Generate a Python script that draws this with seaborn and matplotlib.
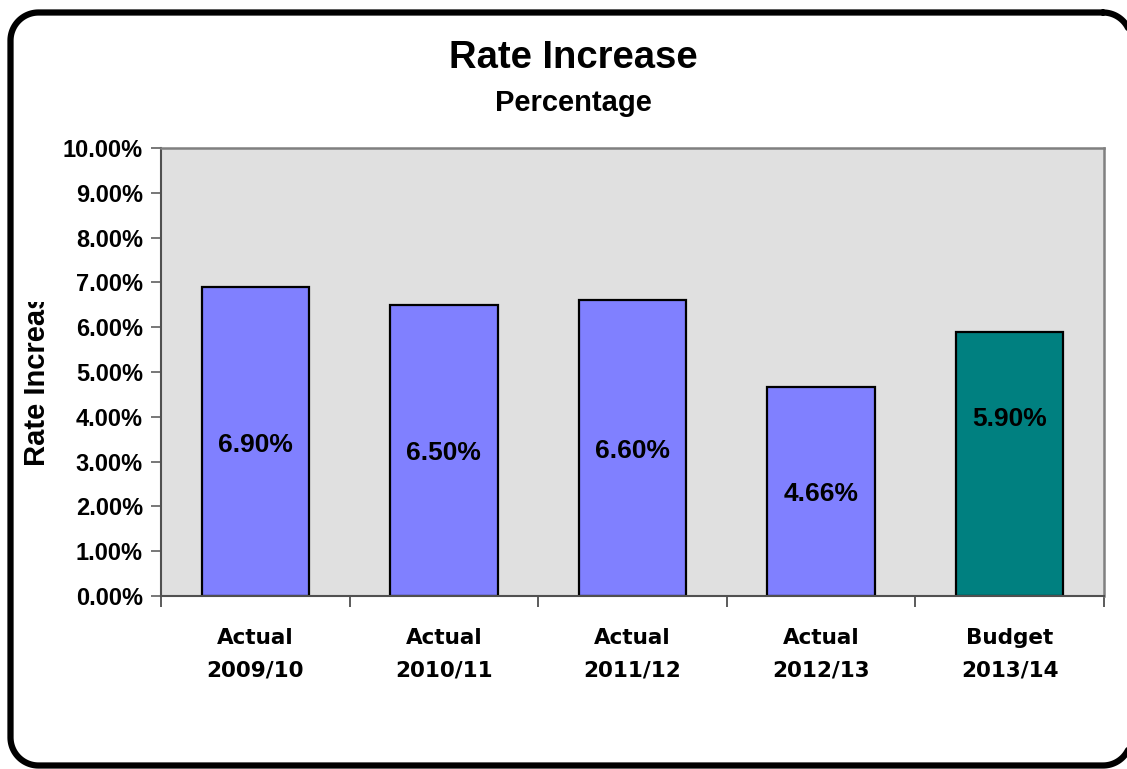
import matplotlib
matplotlib.use("Agg")
import matplotlib.pyplot as plt
import matplotlib.ticker as mticker
from matplotlib.patches import Rectangle
from matplotlib.transforms import IdentityTransform
import numpy as np
import seaborn as sns
import pandas as pd

# ---- data ----
categories = ["Actual\n2009/10", "Actual\n2010/11", "Actual\n2011/12",
              "Actual\n2012/13", "Budget\n2013/14"]
rates = [6.90, 6.50, 6.60, 4.66, 5.90]          # percent
value_labels = ["6.90%", "6.50%", "6.60%", "4.66%", "5.90%"]
bar_colors = ["#8080FF", "#8080FF", "#8080FF", "#8080FF", "#008080"]
y_ticks = [0, 1, 2, 3, 4, 5, 6, 7, 8, 9, 10]

# where each value label sits, as a fraction of its bar height
label_frac = [0.49, 0.49, 0.49, 0.49, 0.67]

df = pd.DataFrame({"period": categories, "rate": rates})

sns.set_theme(style="white")
plt.rcParams["font.family"] = ["Liberation Sans", "DejaVu Sans"]
plt.rcParams["text.color"] = "black"
plt.rcParams["xtick.labelcolor"] = "black"
plt.rcParams["ytick.labelcolor"] = "black"

W, H = 1127, 769
fig = plt.figure(figsize=(W / 100, H / 100), dpi=100)
fig.patch.set_facecolor("white")

ax = fig.add_axes([161 / W, 1 - 596 / H, (1104 - 161) / W, (596 - 148) / H])
ax.set_facecolor("#E0E0E0")

sns.barplot(data=df, x="period", y="rate", hue="period", palette=bar_colors,
            legend=False, width=0.57, edgecolor="black", linewidth=1.6,
            saturation=1, ax=ax, zorder=2)

ax.set_xlim(-0.5, len(categories) - 0.5)
ax.set_ylim(0, 10)

# y axis
ax.yaxis.set_major_locator(mticker.FixedLocator(y_ticks))
ax.yaxis.set_major_formatter(mticker.FuncFormatter(lambda v, _: f"{v:.2f}%"))
ax.tick_params(axis="y", which="major", left=True, length=7, width=1.2,
               color="#606060", pad=6, labelsize=17, labelcolor="black")
for t in ax.get_yticklabels():
    t.set_fontweight("bold")

# x axis: labels centred under bars, tick marks between categories
ax.set_xticks(range(len(categories)))
ax.set_xticklabels(categories, fontsize=15.5, fontweight="bold",
                   family=["DejaVu Sans"], linespacing=1.8, color="black")
ax.tick_params(axis="x", which="major", length=0, pad=23)
ax.set_xticks([i - 0.5 for i in range(len(categories) + 1)], minor=True)
ax.tick_params(axis="x", which="minor", bottom=True, length=8, width=1.2,
               color="#404040")

ax.set_xlabel("")
ax.set_ylabel("")

for side in ["left", "bottom"]:
    ax.spines[side].set_color("#505050")
    ax.spines[side].set_linewidth(1.5)
for side in ["top", "right"]:
    ax.spines[side].set_color("#808080")
    ax.spines[side].set_linewidth(1.8)
for side in ax.spines:
    ax.spines[side].set_visible(True)

# value labels inside bars
for i, (v, lab, f) in enumerate(zip(rates, value_labels, label_frac)):
    ax.text(i, v * f, lab, ha="center", va="center", fontsize=19,
            fontweight="bold", color="black", zorder=3)

# titles
fig.text(573 / W, 1 - 58 / H, "Rate Increase", ha="center", va="center",
         fontsize=27.5, fontweight="bold", color="black")
fig.text(573 / W, 1 - 103 / H, "Percentage", ha="center", va="center",
         fontsize=21, fontweight="bold", color="black")

# vertical axis title, cut off by the chart area edge
ylab = fig.text(37 / W, 1 - 466 / H, "Rate Increase", rotation=90,
                ha="center", va="bottom", fontsize=21, fontweight="bold",
                color="black")
clip = Rectangle((0, H - 466 - 1), 80, 466 - 301, transform=IdentityTransform())
ylab.set_clip_path(clip)

# rounded outer frame, traced on an overlay in pixel units
overlay = fig.add_axes([0, 0, 1, 1], facecolor="none")
overlay.set_xlim(0, W)
overlay.set_ylim(H, 0)
overlay.set_axis_off()

left, top, right, bottom, r = 10.5, 12.5, 1131.0, 765.5, 28.0
corners = [  # (centre x, centre y, start angle, end angle) in image orientation
    (right - r, top + r, -90, 0),
    (right - r, bottom - r, 0, 90),
    (left + r, bottom - r, 90, 180),
    (left + r, top + r, 180, 270),
]
xs, ys = [], []
for cx, cy, a0, a1 in corners:
    ang = np.radians(np.linspace(a0, a1, 30))
    xs.extend(cx + r * np.cos(ang))
    ys.extend(cy + r * np.sin(ang))
xs.append(xs[0])
ys.append(ys[0])
overlay.plot(xs, ys, color="black", linewidth=4.5, clip_on=False,
             solid_joinstyle="round")

fig.savefig("out.png", dpi=100, facecolor="white")
